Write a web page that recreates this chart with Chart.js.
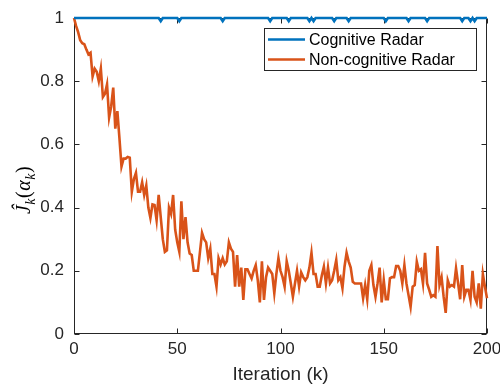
<!DOCTYPE html>
<html>
<head>
<meta charset="utf-8">
<script src="https://cdn.jsdelivr.net/npm/chart.js@4.4.1/dist/chart.umd.min.js"></script>
<style>
html, body { margin: 0; padding: 0; background: #fff; }
</style>
</head>
<body>
<canvas id="canvas" width="500" height="386"></canvas>
<script>
// iteration index k = 0..200
const iterations = Array.from({ length: 201 }, (_, i) => i);

const cognitive = [
    1, 1, 1, 1, 1, 1, 1, 1, 1, 1,
    1, 1, 1, 1, 1, 1, 1, 1, 1, 1,
    1, 1, 1, 1, 1, 1, 1, 1, 1, 1,
    1, 1, 1, 1, 1, 1, 1, 1, 1, 1,
    1, 1, 0.99, 1, 1, 1, 1, 1, 1, 1,
    1, 0.99, 1, 1, 1, 1, 1, 1, 1, 1,
    1, 1, 1, 1, 1, 1, 1, 1, 1, 1,
    1, 1, 0.99, 1, 1, 1, 1, 1, 1, 1,
    1, 1, 1, 1, 1, 1, 1, 1, 1, 1,
    1, 1, 1, 1, 1, 0.99, 1, 1, 1, 1,
    1, 1, 1, 1, 0.99, 1, 1, 1, 1, 1,
    1, 1, 1, 1, 0.99, 1, 0.99, 1, 1, 1,
    1, 1, 1, 1, 1, 1, 0.99, 1, 1, 1,
    1, 1, 1, 0.99, 1, 1, 1, 1, 1, 1,
    1, 1, 1, 1, 1, 1, 1, 1, 1, 1,
    1, 0.99, 1, 1, 1, 1, 1, 1, 1, 1,
    1, 1, 0.99, 1, 1, 1, 1, 1, 1, 1,
    1, 0.99, 1, 1, 1, 1, 1, 1, 1, 1,
    1, 1, 1, 1, 1, 1, 1, 1, 0.99, 1,
    1, 1, 0.99, 1, 0.99, 1, 1, 1, 1, 1,
    1
];

const nonCognitive = [
    1.0, 0.975, 0.955, 0.93, 0.92, 0.917, 0.90, 0.885, 0.89, 0.815,
    0.84, 0.83, 0.80, 0.84, 0.75, 0.76, 0.79, 0.685, 0.72, 0.78,
    0.65, 0.705, 0.62, 0.53, 0.555, 0.555, 0.56, 0.558, 0.45, 0.49,
    0.51, 0.45, 0.45, 0.48, 0.44, 0.47, 0.40, 0.367, 0.41, 0.408,
    0.36, 0.44, 0.37, 0.30, 0.26, 0.265, 0.40, 0.38, 0.44, 0.33,
    0.29, 0.26, 0.42, 0.30, 0.37, 0.29, 0.255, 0.25, 0.20, 0.20,
    0.20, 0.26, 0.32, 0.30, 0.29, 0.24, 0.27, 0.19, 0.19, 0.15,
    0.24, 0.22, 0.24, 0.22, 0.23, 0.29, 0.27, 0.26, 0.15, 0.25,
    0.15, 0.21, 0.108, 0.205, 0.205, 0.19, 0.176, 0.20, 0.218, 0.17,
    0.10, 0.23, 0.108, 0.18, 0.21, 0.20, 0.19, 0.129, 0.19, 0.24,
    0.20, 0.18, 0.15, 0.23, 0.20, 0.16, 0.118, 0.16, 0.20, 0.15,
    0.195, 0.18, 0.17, 0.18, 0.21, 0.257, 0.19, 0.19, 0.15, 0.15,
    0.185, 0.213, 0.16, 0.21, 0.16, 0.17, 0.20, 0.234, 0.17, 0.18,
    0.145, 0.213, 0.257, 0.23, 0.21, 0.165, 0.16, 0.16, 0.16, 0.16,
    0.113, 0.155, 0.11, 0.20, 0.218, 0.155, 0.118, 0.16, 0.21, 0.10,
    0.17, 0.11, 0.11, 0.176, 0.18, 0.18, 0.215, 0.215, 0.20, 0.16,
    0.218, 0.16, 0.123, 0.086, 0.15, 0.155, 0.229, 0.20, 0.205, 0.16,
    0.257, 0.16, 0.14, 0.118, 0.123, 0.118, 0.278, 0.155, 0.18, 0.118,
    0.067, 0.17, 0.15, 0.155, 0.15, 0.208, 0.16, 0.11, 0.218, 0.118,
    0.14, 0.14, 0.108, 0.20, 0.118, 0.10, 0.16, 0.08, 0.19, 0.15,
    0.113
];

const xTicks = [0, 50, 100, 150, 200];
const yTicks = [0, 0.2, 0.4, 0.6, 0.8, 1];
const seriesNames = ['Cognitive Radar', 'Non-cognitive Radar'];
const seriesColors = ['#0072BD', '#D95319'];

const axisColor = '#262626';

let toPoints = function (values) {
    return values.map((v, i) => ({ x: iterations[i], y: v }));
};

// box, inward ticks, y label and legend drawn like matlab does it
const matlabFrame = {
    id: 'matlabFrame',
    beforeDatasetsDraw(chart) {
        const { ctx, chartArea: a, scales: { x, y } } = chart;
        const L = Math.round(a.left) + 0.5, R = Math.round(a.right) - 0.5;
        const T = Math.round(a.top) + 0.5, B = Math.round(a.bottom) - 0.5;
        ctx.save();
        ctx.strokeStyle = axisColor;
        ctx.lineWidth = 1;
        ctx.strokeRect(L, T, R - L, B - T);
        ctx.beginPath();
        xTicks.forEach(v => {
            const px = Math.round(x.getPixelForValue(v)) + 0.5;
            ctx.moveTo(px, B); ctx.lineTo(px, B - 5);
            ctx.moveTo(px, T); ctx.lineTo(px, T + 5);
        });
        yTicks.forEach(v => {
            const py = Math.round(y.getPixelForValue(v)) + 0.5;
            ctx.moveTo(L, py); ctx.lineTo(L + 5, py);
            ctx.moveTo(R, py); ctx.lineTo(R - 5, py);
        });
        ctx.stroke();
        ctx.restore();
    },
    afterDatasetsDraw(chart) {
        const { ctx } = chart;
        ctx.save();
        ctx.strokeStyle = axisColor;
        ctx.lineWidth = 1;

        // legend
        const lx = 264.5, ly = 28.5, lw = 212, lh = 42;
        ctx.fillStyle = '#fff';
        ctx.fillRect(lx, ly, lw, lh);
        ctx.strokeRect(lx, ly, lw, lh);
        ctx.font = '16px "Liberation Sans", Arial, sans-serif';
        ctx.textBaseline = 'middle';
        ctx.textAlign = 'left';
        seriesNames.forEach((name, i) => {
            const ry = 39.5 + i * 20;
            ctx.strokeStyle = seriesColors[i];
            ctx.lineWidth = 2.5;
            ctx.beginPath();
            ctx.moveTo(268, ry); ctx.lineTo(305, ry);
            ctx.stroke();
            ctx.fillStyle = '#000';
            ctx.fillText(name, 309, ry + 1);
        });

        // y label: J-hat_k(alpha_k)
        ctx.translate(24, 190);
        ctx.rotate(-Math.PI / 2);
        const big = 'italic 20px "Liberation Serif", "DejaVu Serif", serif';
        const rom = '20px "Liberation Serif", "DejaVu Serif", serif';
        const sub = 'italic 14px "Liberation Serif", "DejaVu Serif", serif';
        const parts = [
            { t: '\u0134', f: big, dy: 0 },
            { t: 'k', f: sub, dy: 5 },
            { t: '(', f: rom, dy: 0 },
            { t: '\u03B1', f: big, dy: 0 },
            { t: 'k', f: sub, dy: 5 },
            { t: ')', f: rom, dy: 0 }
        ];
        let total = 0;
        parts.forEach(p => { ctx.font = p.f; p.w = ctx.measureText(p.t).width; total += p.w + 0.5; });
        let cx = -total / 2;
        ctx.fillStyle = '#000';
        ctx.textBaseline = 'alphabetic';
        parts.forEach(p => {
            ctx.font = p.f;
            ctx.fillText(p.t, cx, 6 + p.dy);
            cx += p.w + 0.5;
        });
        ctx.restore();
    }
};

new Chart(document.getElementById('canvas').getContext('2d'), {
    type: 'line',
    data: {
        datasets: [{
            label: seriesNames[0],
            data: toPoints(cognitive),
            borderColor: seriesColors[0],
            borderWidth: 2.6,
            pointRadius: 0,
            tension: 0,
            clip: false
        }, {
            label: seriesNames[1],
            data: toPoints(nonCognitive),
            borderColor: seriesColors[1],
            borderWidth: 2.6,
            pointRadius: 0,
            tension: 0,
            clip: false
        }]
    },
    options: {
        responsive: false,
        animation: false,
        devicePixelRatio: 1,
        layout: { padding: { top: 18, right: 13, left: 0, bottom: 0 } },
        plugins: {
            legend: { display: false },
            tooltip: { enabled: false }
        },
        scales: {
            x: {
                type: 'linear',
                min: 0,
                max: 200,
                afterBuildTicks: s => { s.ticks = xTicks.map(v => ({ value: v })); },
                ticks: {
                    color: axisColor,
                    padding: 5,
                    maxRotation: 0,
                    callback: v => String(v),
                    font: { family: '"Liberation Sans", Arial, sans-serif', size: 17 }
                },
                grid: { display: false, drawTicks: false },
                border: { display: false },
                title: {
                    display: true,
                    text: 'Iteration (k)',
                    color: axisColor,
                    padding: 0,
                    font: { family: '"Liberation Sans", Arial, sans-serif', size: 19 }
                },
                afterFit: s => { s.height = 52; s.paddingLeft = 0; s.paddingRight = 0; }
            },
            y: {
                min: 0,
                max: 1,
                afterBuildTicks: s => { s.ticks = yTicks.map(v => ({ value: v })); },
                ticks: {
                    color: axisColor,
                    padding: 10,
                    callback: v => String(v),
                    font: { family: '"Liberation Sans", Arial, sans-serif', size: 17 }
                },
                grid: { display: false, drawTicks: false },
                border: { display: false },
                afterFit: s => { s.width = 74; s.paddingTop = 0; s.paddingBottom = 0; }
            }
        }
    },
    plugins: [matlabFrame]
});
</script>
</body>
</html>
